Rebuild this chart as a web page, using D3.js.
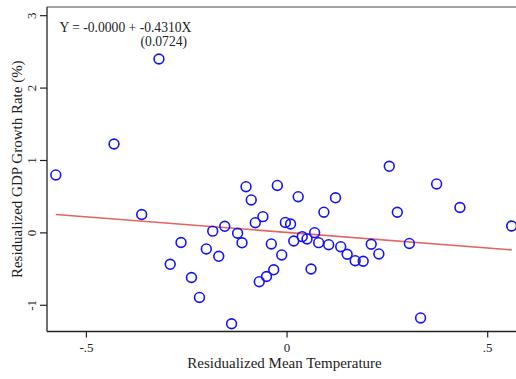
<!DOCTYPE html>
<html>
<head>
<meta charset="utf-8">
<script src="https://cdn.jsdelivr.net/npm/d3@7"></script>
<style>
  html, body { margin: 0; padding: 0; background: #fff; }
  svg { display: block; }
  text { font-family: "Liberation Serif", "Times New Roman", serif; fill: #222; }
</style>
</head>
<body>
<div id="chart"></div>
<script>
// ---- data ----
const tempResid = [-0.575, -0.430, -0.318, -0.361, -0.290, -0.263, -0.237, -0.217, -0.200, -0.184,
                   -0.169, -0.154, -0.137, -0.122, -0.111, -0.101, -0.088, -0.059, -0.078, -0.068,
                   -0.050, -0.032, -0.038, -0.023, -0.012, -0.003, 0.010, 0.018, 0.029, 0.039,
                   0.051, 0.061, 0.070, 0.080, 0.093, 0.105, 0.122, 0.135, 0.151, 0.171,
                   0.191, 0.211, 0.230, 0.256, 0.276, 0.306, 0.334, 0.374, 0.432, 0.561];
const gdpResid  = [0.793, 1.221, 2.395, 0.247, -0.441, -0.140, -0.623, -0.899, -0.229, 0.017,
                   -0.330, 0.084, -1.262, -0.012, -0.144, 0.631, 0.448, 0.217, 0.134, -0.681,
                   -0.609, -0.517, -0.160, 0.648, -0.312, 0.137, 0.116, -0.119, 0.493, -0.059,
                   -0.091, -0.506, -0.004, -0.142, 0.279, -0.170, 0.478, -0.198, -0.302, -0.391,
                   -0.399, -0.164, -0.298, 0.913, 0.278, -0.153, -1.182, 0.669, 0.344, 0.088];
const fitIntercept = -0.0000;
const fitSlope = -0.4310;
const fitSE = 0.0724;
const xTickValues = [-0.5, 0, 0.5];
const xTickLabels = ["-.5", "0", ".5"];
const yTickValues = [-1, 0, 1, 2, 3];
const yTickLabels = ["-1", "0", "1", "2", "3"];

(function () {
const W = 516, H = 379;
const mLeft = 47, mRight = 520.5, mTop = 7, mBottom = 331.5;

const svg = d3.select("#chart").append("svg").attr("width", W).attr("height", H);

const x = d3.scaleLinear().domain([-0.597, 0.583]).range([mLeft, mRight]);
const y = d3.scaleLinear().domain([-1.369, 3.113]).range([mBottom, mTop]);

const pts = tempResid.map((v, i) => ({x: v, y: gdpResid[i]}));

// plot region top border
svg.append("line").attr("x1", mLeft).attr("x2", W + 10).attr("y1", mTop).attr("y2", mTop)
  .attr("stroke", "#444").attr("stroke-width", 1.2);

// fitted line
const xr = d3.extent(tempResid);
svg.append("line")
  .attr("x1", x(xr[0])).attr("y1", y(fitIntercept + fitSlope * xr[0]))
  .attr("x2", x(xr[1])).attr("y2", y(fitIntercept + fitSlope * xr[1]))
  .attr("stroke", "#e46464").attr("stroke-width", 1.6);

// points
svg.append("g").selectAll("circle").data(pts).join("circle")
  .attr("cx", d => x(d.x)).attr("cy", d => y(d.y)).attr("r", 4.9)
  .attr("fill", "none").attr("stroke", "#1414f0").attr("stroke-width", 1.6);

// axes
const xAxis = d3.axisBottom(x).tickValues(xTickValues)
  .tickFormat((d, i) => xTickLabels[i]).tickSize(6).tickPadding(3).tickSizeOuter(0);
const gx = svg.append("g").attr("transform", `translate(0,${mBottom})`).call(xAxis);
gx.select(".domain").attr("d", `M${mLeft},0H${W + 10}`).attr("stroke", "#222").attr("stroke-width", 1.3);
gx.selectAll(".tick line").attr("stroke", "#222").attr("stroke-width", 1.2);
gx.selectAll(".tick text").attr("font-size", 13).attr("font-family", "Liberation Serif").attr("fill", "#222")
  .attr("dy", null).attr("y", 20.5);

const yAxis = d3.axisLeft(y).tickValues(yTickValues)
  .tickFormat((d, i) => yTickLabels[i]).tickSize(7).tickSizeOuter(0);
const gy = svg.append("g").attr("transform", `translate(${mLeft},0)`).call(yAxis);
gy.select(".domain").attr("d", `M0,${mTop}V${mBottom}`).attr("stroke", "#222").attr("stroke-width", 1.3);
gy.selectAll(".tick line").attr("stroke", "#222").attr("stroke-width", 1.2);
gy.selectAll(".tick text").attr("font-size", 13).attr("font-family", "Liberation Serif").attr("fill", "#222")
  .attr("x", null).attr("dy", null).attr("text-anchor", "middle")
  .attr("transform", "translate(-11,0) rotate(-90)");

// axis titles
svg.append("text").attr("x", x(0) - 2).attr("y", 367.5).attr("text-anchor", "middle")
  .attr("font-size", 15).text("Residualized Mean Temperature");
svg.append("text").attr("transform", `translate(21.5,${(mTop + mBottom) / 2}) rotate(-90)`)
  .attr("text-anchor", "middle").attr("font-size", 15).text("Residualized GDP Growth Rate (%)");

// equation annotation (hyphen-minus, as in the reference)
const fmt4 = v => d3.format(".4f")(v).replace("\u2212", "-");
const interceptStr = fitIntercept === 0 ? "-0.0000" : fmt4(fitIntercept);
svg.append("text").attr("x", 59.5).attr("y", 31.5).attr("font-size", 13.6)
  .text(`Y = ${interceptStr} + ${fmt4(fitSlope)}X`);
svg.append("text").attr("x", 187).attr("y", 45.5).attr("text-anchor", "end").attr("font-size", 13.6)
  .text(`(${fmt4(fitSE)})`);
})();
</script>
</body>
</html>
